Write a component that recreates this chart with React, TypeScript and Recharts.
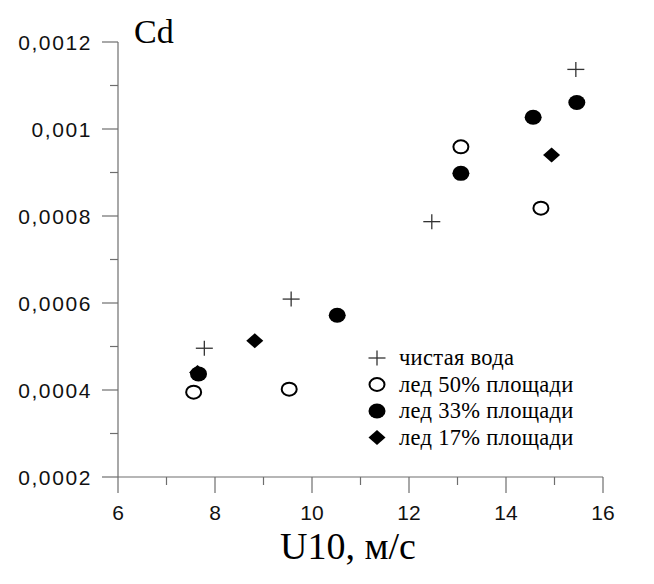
import React from 'react';
import { ScatterChart, Scatter, XAxis, YAxis, Customized } from 'recharts';

// чистая вода
const cleanU = [7.78, 9.57, 12.47, 15.44];
const cleanCd = [0.000496, 0.000609, 0.000787, 0.001137];
// лед 50% площади
const ice50U = [7.56, 9.53, 13.07, 14.72];
const ice50Cd = [0.000395, 0.000402, 0.000959, 0.000818];
// лед 33% площади
const ice33U = [7.66, 10.52, 13.07, 14.56, 15.46];
const ice33Cd = [0.000437, 0.000572, 0.000898, 0.001027, 0.001061];
// лед 17% площади
const ice17U = [7.64, 8.82, 14.94];
const ice17Cd = [0.00044, 0.000513, 0.00094];

const legendLabels = ['чистая вода', 'лед 50% площади', 'лед 33% площади', 'лед 17% площади'];

const xTicks = [6, 7, 8, 9, 10, 11, 12, 13, 14, 15, 16];
const yTicks = [0.0002, 0.0003, 0.0004, 0.0005, 0.0006, 0.0007, 0.0008, 0.0009, 0.001, 0.0011, 0.0012];

const toPoints = (xs: number[], ys: number[]) => xs.map((x, i) => ({ x, y: ys[i] }));

const AXIS = '#6e6e6e';
const SANS = '"Liberation Sans", Arial, sans-serif';
const SERIF = '"Liberation Serif", "Times New Roman", serif';

const PlusMark = ({ cx, cy }: any) => (
  <g stroke="#333" strokeWidth={1.3}>
    <line x1={cx - 8.5} y1={cy} x2={cx + 8.5} y2={cy} />
    <line x1={cx} y1={cy - 7.5} x2={cx} y2={cy + 7.5} />
  </g>
);
const OpenMark = ({ cx, cy }: any) => (
  <ellipse cx={cx} cy={cy} rx={7.5} ry={6.5} fill="#fff" stroke="#000" strokeWidth={2} />
);
const FilledMark = ({ cx, cy }: any) => <ellipse cx={cx} cy={cy} rx={8.5} ry={7.5} fill="#000" />;
const DiamondMark = ({ cx, cy }: any) => (
  <path d={`M${cx},${cy - 7.5} L${cx + 8.5},${cy} L${cx},${cy + 7.5} L${cx - 8.5},${cy} Z`} fill="#000" />
);

const markers = [PlusMark, OpenMark, FilledMark, DiamondMark];

const XTick = ({ x, y, payload }: any) => {
  const major = payload.value % 2 === 0;
  return (
    <g>
      <line x1={x} y1={y} x2={x} y2={y + (major ? 16 : 8)} stroke={AXIS} strokeWidth={1.2} />
      {major && (
        <text x={x} y={y + 43} textAnchor="middle" fontSize={21} fontFamily={SANS} fill="#111">
          {payload.value}
        </text>
      )}
    </g>
  );
};

const YTick = ({ x, y, payload }: any) => {
  const major = Math.round(payload.value * 10000) % 2 === 0;
  const label = parseFloat(payload.value.toFixed(4)).toString().replace('.', ',');
  return (
    <g>
      <line x1={x} y1={y} x2={x - (major ? 16 : 8)} y2={y} stroke={AXIS} strokeWidth={1.2} />
      {major && (
        <text x={x - 26} y={y + 7.5} textAnchor="end" fontSize={21} fontFamily={SANS} fill="#111" letterSpacing={1.6}>
          {label}
        </text>
      )}
    </g>
  );
};

const Extras = () => (
  <g>
    <text x={126} y={35} fontSize={34} fontFamily={SERIF} fill="#000">Cd</text>
    <text x={340} y={551} textAnchor="middle" fontSize={38} fontFamily={SERIF} fill="#000">U10, м/с</text>
    {legendLabels.map((label, i) => {
      const Mark = markers[i];
      const cy = 350 + i * 26.5;
      return (
        <g key={label}>
          <Mark cx={369} cy={cy} />
          <text x={391} y={cy + 7} fontSize={22.5} fontFamily={SERIF} fill="#000" letterSpacing={0.3}>{label}</text>
        </g>
      );
    })}
  </g>
);

export default function App() {
  return (
    <ScatterChart width={638} height={568} margin={{ top: 34, right: 43, left: 0, bottom: 0 }}>
      <XAxis
        type="number"
        dataKey="x"
        domain={[6, 16]}
        ticks={xTicks}
        interval={0}
        height={99}
        tickSize={0}
        tickMargin={0}
        tickLine={false}
        axisLine={{ stroke: AXIS, strokeWidth: 1.2 }}
        tick={<XTick />}
      />
      <YAxis
        type="number"
        dataKey="y"
        domain={[0.0002, 0.0012]}
        ticks={yTicks}
        interval={0}
        width={110}
        tickSize={0}
        tickMargin={0}
        tickLine={false}
        axisLine={{ stroke: AXIS, strokeWidth: 1.2 }}
        tick={<YTick />}
      />
      <Scatter data={toPoints(cleanU, cleanCd)} shape={(p: any) => <PlusMark cx={p.cx} cy={p.cy} />} isAnimationActive={false} />
      <Scatter data={toPoints(ice50U, ice50Cd)} shape={(p: any) => <OpenMark cx={p.cx} cy={p.cy} />} isAnimationActive={false} />
      <Scatter data={toPoints(ice17U, ice17Cd)} shape={(p: any) => <DiamondMark cx={p.cx} cy={p.cy} />} isAnimationActive={false} />
      <Scatter data={toPoints(ice33U, ice33Cd)} shape={(p: any) => <FilledMark cx={p.cx} cy={p.cy} />} isAnimationActive={false} />
      <Customized component={<Extras />} />
    </ScatterChart>
  );
}
